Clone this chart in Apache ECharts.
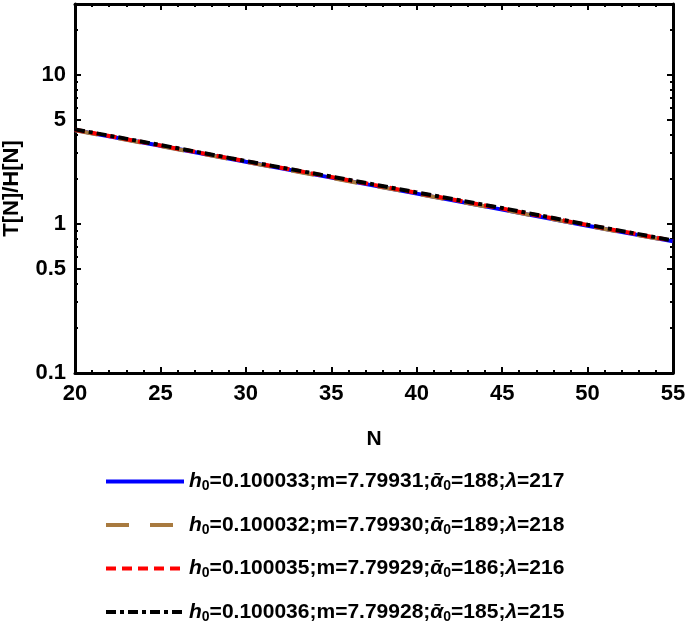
<!DOCTYPE html>
<html>
<head>
<meta charset="utf-8">
<script src="https://cdn.jsdelivr.net/npm/echarts@6/dist/echarts.min.js"></script>
<style>html,body{margin:0;padding:0;background:#fff}#c{width:685px;height:623px}</style>
</head>
<body>
<div id="c"></div>
<script>
const N = [20, 25, 30, 35, 40, 45, 50, 55];
const seriesBlue  = [4.27, 3.35, 2.62, 2.05, 1.60, 1.25, 0.975, 0.765];
const seriesBrown = [4.26, 3.34, 2.61, 2.04, 1.60, 1.25, 0.973, 0.763];
const seriesRed   = [4.30, 3.37, 2.64, 2.07, 1.62, 1.27, 0.985, 0.772];
const seriesBlack = [4.32, 3.39, 2.65, 2.08, 1.63, 1.28, 0.990, 0.776];
const yLabelTicks = [0.1, 0.5, 1, 5, 10];
const yMinorTicks = [0.2, 0.3, 0.4, 0.6, 0.7, 0.8, 0.9, 2, 3, 4, 6, 7, 8, 9, 20, 30];
const legendParams = [
  {h0: '0.100033', m: '7.79931', a0: '188', lam: '217'},
  {h0: '0.100032', m: '7.79930', a0: '189', lam: '218'},
  {h0: '0.100035', m: '7.79929', a0: '186', lam: '216'},
  {h0: '0.100036', m: '7.79928', a0: '185', lam: '215'}
];
const names = legendParams.map((p, i) => 's' + i);

const FONT = '"Liberation Sans", Arial, sans-serif';
const chart = echarts.init(document.getElementById('c'));

function mk(v) { return N.map((n, i) => [n, v[i]]); }

const styles = [
  {color: '#0000ff', type: 'solid'},
  {color: '#a87a3f', type: [23, 21]},
  {color: '#ff0000', type: [10, 6]},
  {color: '#000000', type: [10, 4, 4, 4]}
];
const datas = [seriesBlue, seriesBrown, seriesRed, seriesBlack];

const axisLine = {show: true, onZero: false, lineStyle: {color: '#000', width: 3}};

const option = {
  animation: false,
  backgroundColor: '#fff',
  grid: {left: 75, right: 12, top: 4, bottom: 250, containLabel: false, outerBoundsMode: 'none'},
  xAxis: [
    {
      type: 'value', min: 20, max: 55, interval: 5, position: 'bottom',
      name: 'N', nameLocation: 'middle', nameGap: 56,
      nameTextStyle: {fontFamily: FONT, fontWeight: 'bold', fontSize: 21, color: '#000'},
      axisLine: axisLine,
      axisTick: {show: true, inside: true, length: 6, lineStyle: {color: '#000', width: 2}},
      minorTick: {show: true, splitNumber: 5, length: 3, lineStyle: {color: '#000', width: 2}},
      axisLabel: {fontFamily: FONT, fontWeight: 'bold', fontSize: 22, color: '#000', margin: 10},
      splitLine: {show: false}
    },
    {
      type: 'value', min: 20, max: 55, interval: 5, position: 'top',
      axisLine: axisLine,
      axisTick: {show: true, inside: true, length: 6, lineStyle: {color: '#000', width: 2}},
      minorTick: {show: true, splitNumber: 5, length: 3, lineStyle: {color: '#000', width: 2}},
      axisLabel: {show: false},
      splitLine: {show: false}
    }
  ],
  yAxis: [
    {
      type: 'log', logBase: 10, min: 0.1, max: 30, position: 'left',
      name: 'T[N]/H[N]', nameLocation: 'middle', nameGap: 52, nameRotate: 90,
      nameTextStyle: {fontFamily: FONT, fontWeight: 'bold', fontSize: 22, color: '#000'},
      axisLine: axisLine,
      axisTick: {show: true, inside: true, length: 6, customValues: yLabelTicks, lineStyle: {color: '#000', width: 2}},
      axisLabel: {fontFamily: FONT, fontWeight: 'bold', fontSize: 22, color: '#000', margin: 9,
        customValues: yLabelTicks, formatter: v => String(+v.toPrecision(3))},
      splitLine: {show: false}
    },
    {
      type: 'log', logBase: 10, min: 0.1, max: 30, position: 'left',
      axisLine: {show: false},
      axisTick: {show: true, inside: true, length: 3, customValues: yMinorTicks, lineStyle: {color: '#000', width: 2}},
      axisLabel: {show: false},
      splitLine: {show: false}
    },
    {
      type: 'log', logBase: 10, min: 0.1, max: 30, position: 'right',
      axisLine: axisLine,
      axisTick: {show: true, inside: true, length: 6, customValues: yLabelTicks, lineStyle: {color: '#000', width: 2}},
      axisLabel: {show: false},
      splitLine: {show: false}
    },
    {
      type: 'log', logBase: 10, min: 0.1, max: 30, position: 'right',
      axisLine: {show: false},
      axisTick: {show: true, inside: true, length: 3, customValues: yMinorTicks, lineStyle: {color: '#000', width: 2}},
      axisLabel: {show: false},
      splitLine: {show: false}
    }
  ],
  legend: {
    type: 'plain', orient: 'vertical', left: 104, top: 471, width: 560, height: 200,
    itemGap: 21, padding: 0,
    itemWidth: 78, itemHeight: 24,
    data: names,
    itemStyle: {opacity: 0},
    lineStyle: {width: 4},
    formatter: function (name) {
      const p = legendParams[names.indexOf(name)];
      return '{it|h}{sub|0}{t|=' + p.h0 + ';m=' + p.m + ';}{it|\u1FB1}{sub|0}{t|=' + p.a0 + ';}{it|\u03BB}{t|=' + p.lam + '}';
    },
    textStyle: {
      fontFamily: FONT, fontWeight: 'bold', fontSize: 21, color: '#000',
      rich: {
        t: {fontFamily: FONT, fontWeight: 'bold', fontSize: 21, color: '#000'},
        it: {fontFamily: FONT, fontWeight: 'bold', fontStyle: 'italic', fontSize: 21, color: '#000'},
        sub: {fontFamily: FONT, fontWeight: 'bold', fontSize: 14, color: '#000', padding: [10, 0, 0, 0]}
      }
    }
  },
  series: datas.map((d, i) => ({
    name: names[i], type: 'line', xAxisIndex: 0, yAxisIndex: 0,
    data: mk(d), showSymbol: false, symbol: 'none', smooth: false,
    lineStyle: {color: styles[i].color, width: 4, type: styles[i].type},
    itemStyle: {color: styles[i].color},
    z: 2 + i
  }))
};
chart.setOption(option);
</script>
</body>
</html>
